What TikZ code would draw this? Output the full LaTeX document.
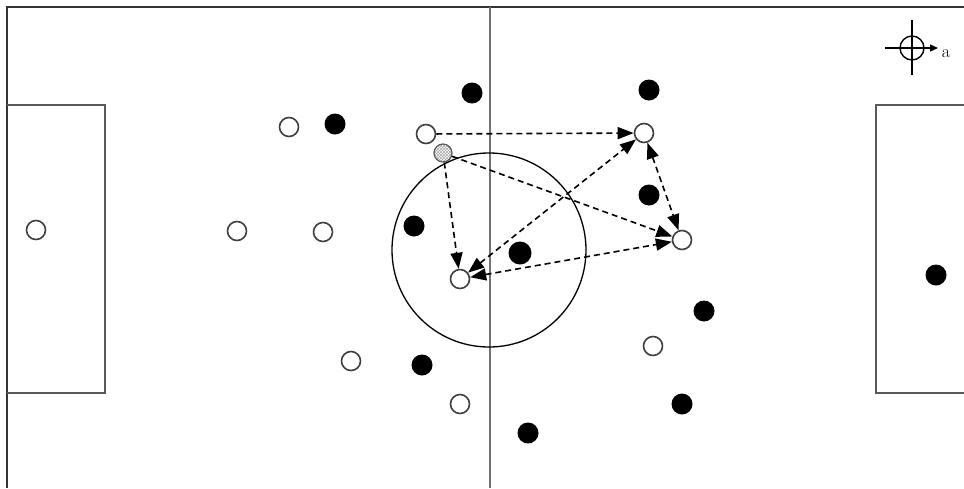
\documentclass[tikz,border=0pt]{standalone}
\usetikzlibrary{arrows.meta,patterns}
\begin{document}
\begin{tikzpicture}[x=1pt,y=-1pt,
  wp/.style={circle,draw=black!75,line width=1.6pt,fill=white,minimum size=19pt,inner sep=0pt},
  bp/.style={circle,fill=black,minimum size=21pt,inner sep=0pt},
  ballnode/.style={circle,draw=black!65,line width=1.2pt,preaction={fill=white},pattern=crosshatch,pattern color=black!35,minimum size=18pt,inner sep=0pt},
  pass/.style={dash pattern=on 6pt off 4pt,line width=1.6pt,-{Triangle[length=16pt,width=12pt]}},
  pass2/.style={dash pattern=on 6pt off 4pt,line width=1.6pt,{Triangle[length=16pt,width=12pt]}-{Triangle[length=16pt,width=12pt]}},
  pitch/.style={line width=1.9pt,draw=black!80},
  box/.style={line width=1.8pt,draw=black!65}]
\useasboundingbox (0,0) rectangle (964,488);
% pitch
\draw[pitch] (7,488) -- (7,7) -- (964,7);
\draw[box] (7,105) -- (105,105) -- (105,393) -- (7,393);
\draw[box] (964,105) -- (876,105) -- (876,393) -- (964,393);
\draw[line width=2.8pt,draw=black!55] (490,7) -- (490,488);
\draw[line width=1.3pt] (489,250) circle[radius=97];
% compass
\draw[line width=1.4pt] (912,20) -- (912,75);
\draw[line width=1.4pt] (912,48) circle[radius=12];
\draw[line width=1.4pt,-{Triangle[length=8pt,width=7pt]}] (885,48) -- (938,48);
\node[font=\fontsize{18}{18}\selectfont,inner sep=0pt] (alab) at (946,54) {a};
% white players
\node[wp] (w1) at (36,230) {};
\node[wp] (w2) at (289,127) {};
\node[wp] (w3) at (237,231) {};
\node[wp] (w4) at (323,232) {};
\node[wp] (w5) at (426,134) {};
\node[wp] (w6) at (460,279) {};
\node[wp] (w7) at (644,133) {};
\node[wp] (w8) at (682,240) {};
\node[wp] (w9) at (351,361) {};
\node[wp] (w10) at (460,404) {};
\node[wp] (w11) at (653,346) {};
% black players
\node[bp] (b1) at (472,93) {};
\node[bp] (b2) at (335,124) {};
\node[bp] (b3) at (649,90) {};
\node[bp] (b4) at (414,226) {};
\node[bp,minimum size=23pt] (b5) at (520,253) {};
\node[bp] (b6) at (649,195) {};
\node[bp] (b7) at (704,311) {};
\node[bp] (b8) at (422,365) {};
\node[bp] (b9) at (682,404) {};
\node[bp] (b10) at (528,433) {};
\node[bp] (b11) at (936,275) {};
% ball
\node[ballnode] (ball) at (443,153) {};
% passes
\draw[pass] (w5) -- (w7);
\draw[pass] (ball) -- (w8);
\draw[pass] (ball) -- (w6);
\draw[pass2] (w6) -- (w7);
\draw[pass2] (w6) -- (w8);
\draw[pass2] (w7) -- (w8);
\end{tikzpicture}
\end{document}
